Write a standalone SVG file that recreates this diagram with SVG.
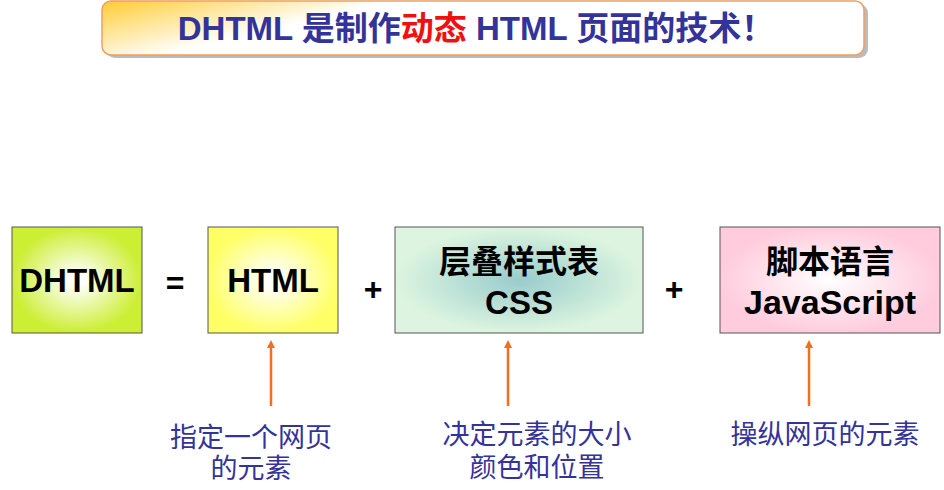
<svg xmlns="http://www.w3.org/2000/svg" width="944" height="490" viewBox="0 0 944 490">
<style>
.t{font-family:"Liberation Sans","Noto Sans CJK SC",sans-serif;font-weight:bold;text-anchor:middle;fill:#000}
.n{font-family:"Liberation Sans","Noto Sans CJK SC",sans-serif;font-size:27px;text-anchor:middle;fill:#333399}
.b{stroke:#555;stroke-width:1}
.c{stroke:#f07020;stroke-width:2.5;fill:none;marker-end:url(#ah)}
</style>
<defs>
<radialGradient id="g1"><stop offset="0.1" stop-color="#fff"/><stop offset="1" stop-color="#ccee33"/></radialGradient>
<radialGradient id="g2"><stop offset="0.1" stop-color="#fff"/><stop offset="1" stop-color="#ffff66"/></radialGradient>
<radialGradient id="g3"><stop offset="0" stop-color="#99cccc"/><stop offset="1" stop-color="#ddf5e0"/></radialGradient>
<radialGradient id="g4"><stop offset="0" stop-color="#fff"/><stop offset="1" stop-color="#ffccdd"/></radialGradient>
<linearGradient id="gt" x1="0" y1="0" x2="1" y2="0.3"><stop offset="0" stop-color="#ffcc33"/><stop offset="0.35" stop-color="#fff"/><stop offset="1" stop-color="#fff"/></linearGradient>
<marker id="ah" markerWidth="8" markerHeight="8" refX="4" refY="4" orient="auto" markerUnits="userSpaceOnUse"><path d="M0,0 L8,4 L0,8 z" fill="#f07020"/></marker>
</defs>
<g id="title">
<rect x="106" y="4" width="762" height="54" rx="9" fill="#bbb"/>
<rect x="102" y="1" width="762" height="54" rx="9" fill="url(#gt)" stroke="#f0a060" stroke-width="1.5"/>
<text x="476" y="40" class="t" font-size="33" style="fill:#333399">DHTML 是制作<tspan style="fill:#ee1111">动态</tspan> HTML 页面的技术！</text>
</g>
<g id="dhtml"><rect x="12" y="227" width="130" height="106" fill="url(#g1)" class="b"/><text x="77" y="292" class="t" font-size="33">DHTML</text></g>
<g id="eq"><text x="175" y="294" class="t" font-size="32">=</text></g>
<g id="html"><rect x="208" y="227" width="130" height="106" fill="url(#g2)" class="b"/><text x="273" y="292" class="t" font-size="33">HTML</text></g>
<g id="plus1"><text x="373" y="300" class="t" font-size="32">+</text></g>
<g id="css"><rect x="395" y="227" width="248" height="106" fill="url(#g3)" class="b"/><text x="519" y="273" class="t" font-size="32">层叠样式表</text><text x="519" y="314" class="t" font-size="33">CSS</text></g>
<g id="plus2"><text x="674" y="300" class="t" font-size="32">+</text></g>
<g id="js"><rect x="720" y="227" width="220" height="106" fill="url(#g4)" class="b"/><text x="830" y="273" class="t" font-size="32">脚本语言</text><text x="830" y="314" class="t" font-size="34">JavaScript</text></g>
<g id="connectors">
<line x1="271" y1="406" x2="271" y2="344" class="c"/>
<line x1="508" y1="406" x2="508" y2="344" class="c"/>
<line x1="809" y1="406" x2="809" y2="344" class="c"/>
</g>
<g id="note1"><text x="251" y="447" class="n">指定一个网页</text><text x="251" y="478" class="n">的元素</text></g>
<g id="note2"><text x="537" y="444" class="n">决定元素的大小</text><text x="537" y="477" class="n">颜色和位置</text></g>
<g id="note3"><text x="825" y="444" class="n">操纵网页的元素</text></g>
</svg>
